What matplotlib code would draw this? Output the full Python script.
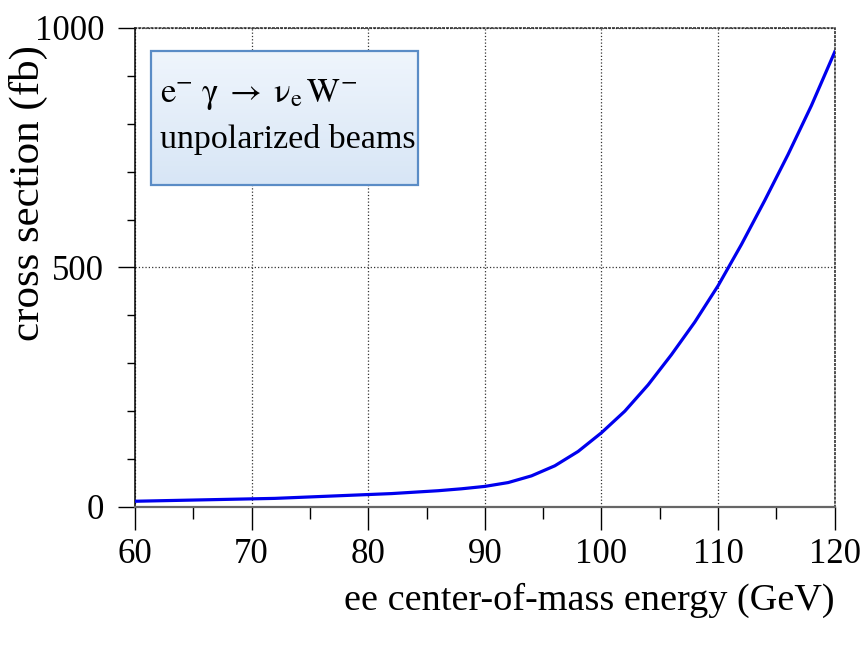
import numpy as np
import matplotlib.pyplot as plt
from matplotlib.patches import Rectangle
from matplotlib.colors import LinearSegmentedColormap
from matplotlib.ticker import MultipleLocator

plt.rcParams['font.family'] = ['Liberation Serif', 'DejaVu Serif']
plt.rcParams['mathtext.fontset'] = 'stix'

# -- datos --
energy = [60, 62, 64, 66, 68, 70, 72, 74, 76, 78, 80, 82, 84, 86, 88, 90,
          92, 94, 96, 98, 100, 102, 104, 106, 108, 110, 112, 114, 116, 118, 120]
xsec = [12, 13, 14, 15, 16, 17, 18, 20, 22, 24, 26, 28, 31, 34, 38, 43,
        51, 65, 86, 116, 155, 200, 255, 318, 386, 462, 548, 640, 736, 838, 950]

x_ticks = [60, 70, 80, 90, 100, 110, 120]
y_ticks = [0, 500, 1000]

fig = plt.figure(figsize=(8.65, 6.51), dpi=100)
ax = fig.add_axes([0.156, 0.2212, 0.809, 0.7358])

ax.plot(energy, xsec, color='#0000ee', lw=2.3, zorder=3)

ax.set_xticks(x_ticks)
ax.set_yticks(y_ticks)
ax.xaxis.set_minor_locator(MultipleLocator(5))
ax.yaxis.set_minor_locator(MultipleLocator(100))

ax.tick_params(axis='both', which='both', direction='out', colors='black',
               width=1.0, labelsize=25)
ax.tick_params(axis='x', which='major', length=16.5, pad=6)
ax.tick_params(axis='x', which='minor', length=8.5)
ax.tick_params(axis='y', which='major', length=12, pad=10)
ax.tick_params(axis='y', which='minor', length=6)

# rejilla punteada
ax.grid(True, which='major', linestyle=':', color='#333333', lw=0.9)

# bordes
ax.spines['left'].set_color('black')
ax.spines['left'].set_linewidth(1.1)
ax.spines['bottom'].set_color('#666666')
ax.spines['bottom'].set_linewidth(1.6)
for s in ['top', 'right']:
    ax.spines[s].set_linestyle(':')
    ax.spines[s].set_color('#222222')
    ax.spines[s].set_linewidth(1.1)

ax.set_xlabel('ee center-of-mass energy (GeV)', fontsize=27.5, loc='right',
              labelpad=8)
ax.set_ylabel('cross section (fb)', fontsize=31)
ax.yaxis.set_label_coords(-0.124, 0.655)

# caja de leyenda con degradado
x0, x1, y0, y1 = 0.023, 0.404, 0.672, 0.952
grad = np.linspace(0, 1, 50).reshape(-1, 1)
cmap = LinearSegmentedColormap.from_list('g', ['#d8e6f6', '#eff5fc'])
ax.imshow(grad, extent=[x0, x1, y0, y1], transform=ax.transAxes,
          aspect='auto', cmap=cmap, origin='lower', zorder=4)
ax.add_patch(Rectangle((x0, y0), x1 - x0, y1 - y0, transform=ax.transAxes,
                       facecolor='none', edgecolor='#5a8cc6', lw=1.6, zorder=5))
ax.set_xlim(60, 120)
ax.set_ylim(0, 1000)

ax.text(0.036, 0.846, r'$\mathrm{e^{-}\;\gamma\;\rightarrow\;\nu_{e}\,W^{-}}$',
        transform=ax.transAxes, fontsize=25, va='baseline', ha='left', zorder=6)
ax.text(0.036, 0.749, 'unpolarized beams', transform=ax.transAxes,
        fontsize=24.5, va='baseline', ha='left', zorder=6)

fig.savefig('out.png', dpi=100)
